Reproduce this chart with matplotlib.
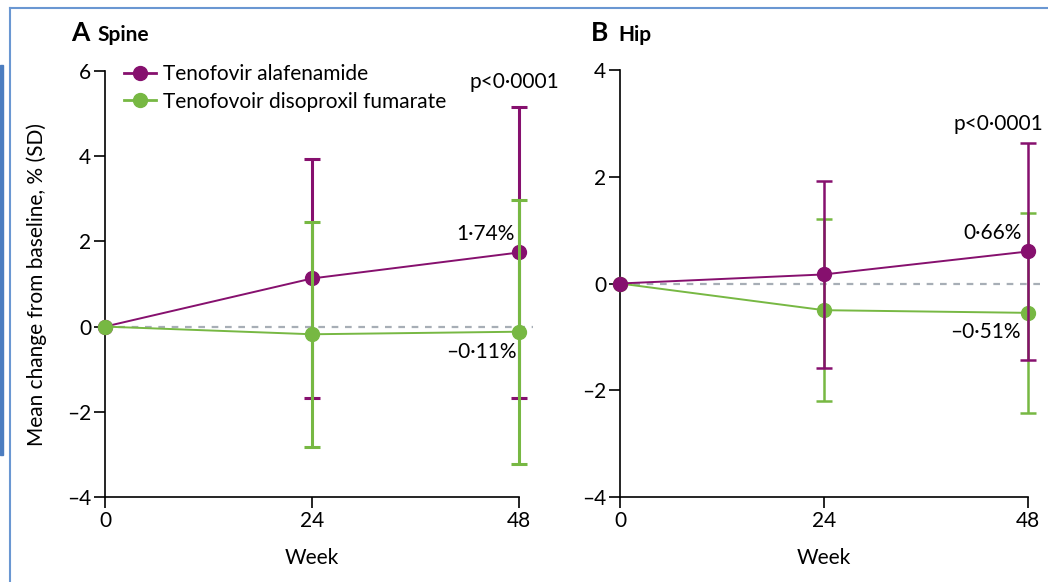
import matplotlib
matplotlib.use("Agg")
import matplotlib.pyplot as plt
from matplotlib.lines import Line2D
from matplotlib.patches import Rectangle

# data
weeks = [0, 24, 48]
spine_taf = [0, 1.13, 1.74]
spine_taf_sd = [0, 2.80, 3.42]
spine_tdf = [0, -0.18, -0.12]
spine_tdf_sd = [0, 2.64, 3.10]
hip_taf = [0, 0.17, 0.60]
hip_taf_sd = [0, 1.75, 2.03]
hip_tdf = [0, -0.50, -0.55]
hip_tdf_sd = [0, 1.71, 1.87]
spine_labels = ["1·74%", "–0·11%"]
hip_labels = ["0·66%", "–0·51%"]
p_text = "p<0·0001"
series_names = ["Tenofovir alafenamide", "Tenofovoir disoproxil fumarate"]

plt.rcParams['font.family'] = ['Lato', 'DejaVu Sans']

purple = "#86106E"
green = "#77B843"
grey = "#A7AEB6"
FS = 15

fig = plt.figure(figsize=(10.48, 5.82), dpi=100)
W, H = 1048, 582


def px_axes(l, r, t, b):
    return fig.add_axes([l / W, (H - b) / H, (r - l) / W, (b - t) / H])


def style(ax, ymin, ymax, ystep):
    ax.set_xlim(0, 48)
    ax.set_ylim(ymin, ymax)
    for s in ['top', 'right']:
        ax.spines[s].set_visible(False)
    for s in ['left', 'bottom']:
        ax.spines[s].set_linewidth(1.2)
    ax.set_xticks(weeks)
    ax.set_yticks(range(ymin, ymax + 1, ystep))
    ax.set_yticklabels([("–" + str(-v)) if v < 0 else str(v) for v in range(ymin, ymax + 1, ystep)])
    ax.tick_params(direction='out', length=8, width=1.2, labelsize=FS, pad=2)
    ax.set_xlabel("Week", fontsize=FS, labelpad=12)
    ax.axhline(0, xmin=0, xmax=49.6 / 48, color=grey, lw=1.6, ls=(0, (3, 3)), clip_on=False, zorder=1)


def draw(ax, x, y, sd, color, z, lw):
    ax.errorbar(x[1:], y[1:], yerr=sd[1:], fmt='none', ecolor=color, elinewidth=lw,
                capsize=6, capthick=lw, clip_on=False, zorder=z)
    ax.plot(x, y, color=color, lw=1.4, marker='o', ms=10, clip_on=False, zorder=z + 1)


def px_text(x, y, s, **kw):
    fig.text(x / W, 1 - y / H, s, **kw)


# A Spine
ax1 = px_axes(105, 519, 71, 497)
style(ax1, -4, 6, 2)
ax1.set_ylabel("Mean change from baseline, % (SD)", fontsize=FS, labelpad=14)
draw(ax1, weeks, spine_taf, spine_taf_sd, purple, 3, 2.2)
draw(ax1, weeks, spine_tdf, spine_tdf_sd, green, 5, 2.2)
px_text(71, 41, "A", fontsize=19, fontweight='bold', va='baseline')
px_text(97, 41, "Spine", fontsize=15, fontweight='bold', va='baseline')
ax1.text(47.5, spine_taf[2] + 0.2, spine_labels[0], fontsize=FS, ha='right', va='bottom')
ax1.text(47.7, spine_tdf[2] - 0.25, spine_labels[1], fontsize=FS, ha='right', va='top')
ax1.text(47.5, 5.5, p_text, fontsize=FS, ha='center', va='bottom')
handles = [Line2D([], [], color=purple, lw=2, marker='o', ms=10),
           Line2D([], [], color=green, lw=2, marker='o', ms=10)]
ax1.legend(handles, series_names, loc='upper left', bbox_to_anchor=(0.025, 1.035), frameon=False,
           fontsize=FS, handlelength=1.55, handletextpad=0.35, labelspacing=0.35, borderaxespad=0)

# B Hip
ax2 = px_axes(620, 1028, 70, 497)
style(ax2, -4, 4, 2)
draw(ax2, weeks, hip_tdf, hip_tdf_sd, green, 3, 1.8)
draw(ax2, weeks, hip_taf, hip_taf_sd, purple, 5, 1.8)
px_text(591, 41, "B", fontsize=19, fontweight='bold', va='baseline')
px_text(618, 41, "Hip", fontsize=15, fontweight='bold', va='baseline')
ax2.text(47.3, hip_taf[2] + 0.15, hip_labels[0], fontsize=FS, ha='right', va='bottom')
ax2.text(47.1, hip_tdf[2] - 0.18, hip_labels[1], fontsize=FS, ha='right', va='top')
ax2.text(44.5, 2.8, p_text, fontsize=FS, ha='center', va='bottom')

# page frame
fig.add_artist(Line2D([10 / W, 10 / W], [0, 1 - 8 / H], color="#6A97D2", lw=1.5))
fig.add_artist(Line2D([10 / W, 1], [1 - 8 / H, 1 - 8 / H], color="#6A97D2", lw=1.5))
fig.add_artist(Rectangle((0, (H - 455) / H), 3 / W, 390 / H, color="#4C7DC0", transform=fig.transFigure))

fig.savefig("out.png", dpi=100)
